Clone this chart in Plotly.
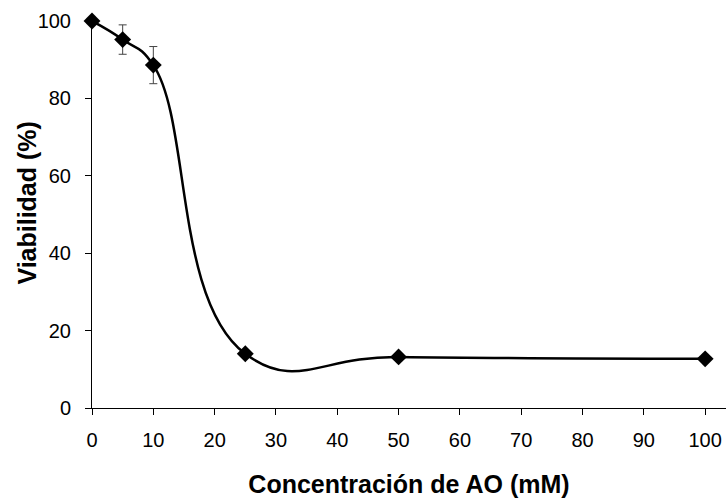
import plotly.graph_objects as go

# Viability versus AO concentration
concentracion = [0, 5, 10, 25, 50, 100]
viabilidad = [100, 95.2, 88.6, 14.0, 13.2, 12.7]
error = [0, 3.8, 4.8, 0.8, 0.6, 0.6]

x_ticks = [0, 10, 20, 30, 40, 50, 60, 70, 80, 90, 100]
y_ticks = [0, 20, 40, 60, 80, 100]

fig = go.Figure()
fig.add_trace(go.Scatter(
    x=concentracion,
    y=viabilidad,
    mode="lines+markers",
    line=dict(color="black", width=2.5, shape="spline", smoothing=1.3),
    marker=dict(symbol="diamond", size=13, color="black"),
    error_y=dict(type="data", array=error, visible=True,
                 color="#444444", thickness=1, width=4),
    cliponaxis=False,
    showlegend=False,
))

axis_font = dict(family="Liberation Sans, Arial, sans-serif", size=20, color="black")
title_font = dict(family="Liberation Sans, Arial, sans-serif", size=25, color="black")

fig.update_layout(
    width=726, height=498,
    margin=dict(l=92, r=0, t=21, b=90),
    paper_bgcolor="white",
    plot_bgcolor="white",
    xaxis=dict(
        range=[0, 103.4],
        tickvals=x_ticks,
        ticktext=[str(v) for v in x_ticks],
        showgrid=False, zeroline=False,
        showline=True, linecolor="black", linewidth=1,
        ticks="outside", ticklen=6, tickcolor="black",
        tickfont=axis_font,
        ticklabelstandoff=8,
        title=dict(text="<b>Concentración de AO (mM)</b>", font=title_font, standoff=27),
    ),
    yaxis=dict(
        range=[0, 100],
        tickvals=y_ticks,
        showgrid=False, zeroline=False,
        showline=True, linecolor="black", linewidth=1,
        ticks="outside", ticklen=6, tickcolor="black",
        tickfont=axis_font,
        ticklabelstandoff=10,
    ),
    annotations=[dict(
        text="<b>Viabilidad (%)</b>", font=title_font, textangle=-90,
        xref="paper", yref="paper", x=-0.103, y=0.53,
        xanchor="center", yanchor="middle", showarrow=False,
    )],
)

fig.write_html("out.html")
